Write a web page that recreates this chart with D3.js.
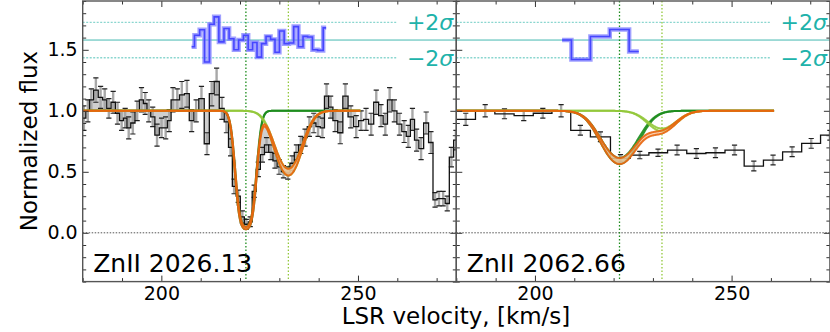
<!DOCTYPE html>
<html>
<head>
<meta charset="utf-8">
<script src="https://cdn.jsdelivr.net/npm/d3@7"></script>
<style>
body { margin: 0; background: #fff; }
svg text { font-family: "DejaVu Sans", sans-serif; }
</style>
</head>
<body>
<svg id="chart" width="830" height="332"></svg>
<script>
// ---- data ----
var velL = [180.3,181.3,182.2,183.35,184.55,185.6,186.65,187.75,188.85,189.9,
  190.8,191.7,192.75,193.85,194.95,195.9,196.8,197.8,198.9,200.05,
  201.1,202.0,202.95,204.05,205.2,206.5,207.7,208.85,210.2,211.6,
  212.8,214.05,215.4,216.55,217.6,218.5,219.55,220.6,221.6,222.6,
  223.6,224.65,225.7,226.75,227.85,228.9,229.95,231.05,232.15,233.25,
  234.35,235.45,236.55,237.65,238.75,239.85,240.95,242.0,243.05,244.2,
  245.5,246.8,248.15,249.55,250.8,252.05,253.35,254.65,255.85,256.95,
  258.05,259.25,260.55,261.75,262.8,263.85,264.9,266.05,267.35,268.55,
  269.6,270.6,271.65,272.7,273.75,274.9];
var fluxL = [0.94,1.00,1.09,1.17,1.11,1.09,1.02,1.07,0.98,0.92,
  0.94,0.86,0.90,1.00,1.09,1.06,1.00,0.95,0.80,0.86,
  0.86,0.92,1.09,1.09,1.13,1.14,0.92,1.00,1.10,0.73,
  1.14,1.24,1.02,0.91,0.70,0.38,0.30,0.13,0.07,0.09,
  0.34,0.52,0.64,0.72,0.66,0.59,0.54,0.50,0.49,0.57,
  0.66,0.72,0.78,0.87,0.90,0.87,0.86,1.12,1.03,0.92,
  0.82,1.12,0.95,0.87,0.92,0.93,0.89,1.07,0.96,0.89,
  1.09,1.00,0.89,0.83,0.79,0.93,0.76,0.69,0.90,0.74,
  0.27,0.28,0.28,0.24,0.62,0.76];
var errL = [0.10,0.09,0.09,0.10,0.09,0.09,0.08,0.09,0.09,0.08,
  0.08,0.09,0.09,0.08,0.10,0.09,0.09,0.08,0.09,0.08,
  0.09,0.09,0.10,0.09,0.11,0.11,0.09,0.09,0.10,0.09,
  0.10,0.11,0.09,0.09,0.07,0.06,0.05,0.05,0.04,0.04,
  0.05,0.06,0.06,0.06,0.06,0.06,0.06,0.05,0.05,0.06,
  0.06,0.07,0.07,0.08,0.08,0.08,0.08,0.10,0.09,0.09,
  0.09,0.10,0.09,0.09,0.08,0.09,0.09,0.10,0.09,0.09,
  0.10,0.09,0.09,0.09,0.09,0.09,0.09,0.09,0.09,0.09,
  0.06,0.06,0.06,0.06,0.08,0.08];

var velR = [182.4,187.35,192.25,197.15,202.0,206.65,211.55,216.65,221.75,226.65,
  231.3,236.15,241.05,245.9,250.75,255.65,260.55,265.4,270.25,275.0];
var fluxR = [0.93,1.00,0.975,0.96,0.98,1.00,0.84,0.787,0.61,0.637,
  0.656,0.678,0.65,0.656,0.678,0.547,0.596,0.664,0.733,0.80];
var errR = [0.05,0.05,0.04,0.04,0.04,0.05,0.04,0.04,0.03,0.03,
  0.03,0.04,0.04,0.04,0.04,0.04,0.04,0.04,0.04,0.04];

// residuals in units of sigma
var resVelL = [207.7,209.15,210.35,211.6,212.85,214.0,215.25,216.6,217.85,219.05,
  220.25,221.5,222.65,223.75,224.9,226.05,227.2,228.35,229.45,230.6,
  231.85,233.05,234.25,235.45,236.6,237.8,239.05,240.4,241.9];
var resL = [-0.76,0.55,1.17,-2.48,1.79,2.62,-0.21,1.31,0.14,-1.10,
  0,0.55,-1.10,-0.28,-1.93,-0.41,0.41,0.07,-1.38,1.03,
  -0.41,-0.34,1.52,-0.76,0.41,0.34,-1.10,-1.17,1.38];
var resVelR = [206.9,211.65,216.55,221.5,226.4];
var resR = [0,-2.2,0.4,1.2,-1.3];

// fitted components
var compVel = [221.5, 232.3];
var compTauL = [3.3, 0.70];
var compBL = [2.2, 4.3];
var compTauR = [0.53, 0.17];
var compBR = [6.0, 5.0];
var modelRangeL = [180, 250.6];
var modelRangeR = [180, 260.8];

var lineNames = ['ZnII 2026.13', 'ZnII 2062.66'];
var xMajor = [200, 250];
var yMajor = [0, 0.5, 1.0, 1.5];

// ---- layout ----
var width = 830, height = 332;
var plotTop = 1, plotBottom = 281.6;
var panelW = 373.6;
var panelX = [82.7, 456.3];
var xDomain = [180, 275];
var yDomain = [-0.4, 1.9];
var resMid = 1.58, resSig = 0.0725;
var sigLineEnd = 260;

var compColors = ['#1c8c1c', '#92c83a'];
var compFills = ['#8fcf8f', '#d3eaa6'];
var orange = '#e8650d', orangeFill = '#f6b98e';
var teal = '#20b2aa';

var svg = d3.select('#chart');

var y = d3.scaleLinear().domain(yDomain).range([plotBottom, plotTop]);

function stepPoints(vs, fs) {
    // extend the first and last bins by half a bin so steps reach the frame
    var pts = vs.map(function(v, i) { return [v, fs[i]]; });
    var n = vs.length;
    var first = [vs[0] - (vs[1] - vs[0]) / 2, fs[0]];
    var last = [vs[n - 1] + (vs[n - 1] - vs[n - 2]) / 2, fs[n - 1]];
    return [first].concat(pts, [last]);
}

function compFlux(v, i, taus, bs, s) {
    var g = (v - compVel[i]) / bs[i];
    return Math.exp(-taus[i] * s * Math.exp(-g * g));
}

function totalFlux(v, taus, bs, s) {
    var t = 0;
    for (var i = 0; i < compVel.length; i++) {
        var g = (v - compVel[i]) / bs[i];
        t += taus[i] * s * Math.exp(-g * g);
    }
    return Math.exp(-t);
}

var panels = [
    { vel: velL, flux: fluxL, err: errL, rv: resVelL, res: resL,
      taus: compTauL, bs: compBL, range: modelRangeL, fill: true },
    { vel: velR, flux: fluxR, err: errR, rv: resVelR, res: resR,
      taus: compTauR, bs: compBR, range: modelRangeR, fill: false }
];

panels.forEach(function(p, pi) {
    var x0 = panelX[pi];
    var x = d3.scaleLinear().domain(xDomain).range([x0, x0 + panelW]);
    var g = svg.append('g');

    svg.append('clipPath').attr('id', 'clip' + pi)
        .append('rect')
        .attr('x', x0).attr('y', plotTop)
        .attr('width', panelW).attr('height', plotBottom - plotTop);
    var view = g.append('g').attr('clip-path', 'url(#clip' + pi + ')');

    // reference lines
    view.append('line')
        .attr('x1', x0).attr('x2', x0 + panelW)
        .attr('y1', y(0)).attr('y2', y(0))
        .attr('stroke', '#555').attr('stroke-width', 1)
        .attr('stroke-dasharray', '1.5,1.5');
    view.append('line')
        .attr('x1', x0).attr('x2', x0 + panelW)
        .attr('y1', y(resMid)).attr('y2', y(resMid))
        .attr('stroke', '#45b8b0').attr('stroke-width', 1);
    [-2, 2].forEach(function(k) {
        view.append('line')
            .attr('x1', x0).attr('x2', x(sigLineEnd))
            .attr('y1', y(resMid + k * resSig)).attr('y2', y(resMid + k * resSig))
            .attr('stroke', '#8ad6cf').attr('stroke-width', 1.4)
            .attr('stroke-dasharray', '2,1.5');
    });
    compVel.forEach(function(v, i) {
        view.append('line')
            .attr('x1', x(v)).attr('x2', x(v))
            .attr('y1', plotTop).attr('y2', plotBottom)
            .attr('stroke', compColors[i]).attr('stroke-width', 1.3)
            .attr('stroke-dasharray', '1.5,2');
    });

    // data
    var pts = stepPoints(p.vel, p.flux);
    if (p.fill) {
        var inFit = pts.filter(function(d) { return d[0] >= p.range[0] && d[0] <= p.range[1]; });
        view.append('path')
            .attr('d', d3.area()
                .x(function(d) { return x(d[0]); })
                .y0(function(d) { return y(totalFlux(d[0], p.taus, p.bs, 1)); })
                .y1(function(d) { return y(d[1]); })
                .curve(d3.curveStep)(inFit))
            .attr('fill', '#cfcfcf');
    }
    var eb = view.append('g');
    p.vel.forEach(function(v, i) {
        var lo = y(p.flux[i] - p.err[i]), hi = y(p.flux[i] + p.err[i]);
        eb.append('line').attr('x1', x(v)).attr('x2', x(v))
            .attr('y1', lo).attr('y2', hi)
            .attr('stroke', '#a8a8a8').attr('stroke-width', 2.4);
        [lo, hi].forEach(function(yy) {
            eb.append('line').attr('x1', x(v) - 2.6).attr('x2', x(v) + 2.6)
                .attr('y1', yy).attr('y2', yy)
                .attr('stroke', '#222').attr('stroke-width', 1.2);
        });
    });
    view.append('path')
        .attr('d', d3.line()
            .x(function(d) { return x(d[0]); })
            .y(function(d) { return y(d[1]); })
            .curve(d3.curveStep)(pts))
        .attr('fill', 'none').attr('stroke', '#111').attr('stroke-width', 1.3);

    // model curves
    var vs = d3.range(p.range[0], p.range[1] + 0.001, 0.2);
    function band(fn, color, fill) {
        var lo = vs.map(function(v) { return [v, fn(v, 0.92)]; });
        var hi = vs.map(function(v) { return [v, fn(v, 1.08)]; });
        view.append('path')
            .attr('d', d3.area()
                .x(function(d, i) { return x(vs[i]); })
                .y0(function(d, i) { return y(lo[i][1]); })
                .y1(function(d, i) { return y(hi[i][1]); })(vs))
            .attr('fill', fill).attr('opacity', 0.7);
        [lo, hi].forEach(function(curve) {
            view.append('path')
                .attr('d', d3.line()
                    .x(function(d) { return x(d[0]); })
                    .y(function(d) { return y(d[1]); })(curve))
                .attr('fill', 'none').attr('stroke', color)
                .attr('stroke-width', 2).attr('opacity', 0.9);
        });
    }
    compVel.forEach(function(cv, i) {
        band(function(v, s) { return compFlux(v, i, p.taus, p.bs, s); }, compColors[i], compFills[i]);
    });
    band(function(v, s) { return totalFlux(v, p.taus, p.bs, s); }, orange, orangeFill);

    // residuals
    var resLine = d3.line()
        .x(function(d, i) { return x(p.rv[i]); })
        .y(function(d) { return y(resMid + d * resSig); })
        .curve(d3.curveStep);
    view.append('path').attr('d', resLine(p.res))
        .attr('fill', 'none').attr('stroke', '#7878ff')
        .attr('stroke-width', 4.5).attr('opacity', 0.7);
    view.append('path').attr('d', resLine(p.res))
        .attr('fill', 'none').attr('stroke', '#4646ff')
        .attr('stroke-width', 1.6);

    // sigma labels
    [['+2', 2], ['\u22122', -2]].forEach(function(lab) {
        var t = g.append('text')
            .attr('x', x0 + panelW - 3)
            .attr('y', y(resMid + lab[1] * resSig))
            .attr('dy', '0.36em')
            .attr('text-anchor', 'end')
            .attr('font-size', 22)
            .attr('fill', teal);
        t.append('tspan').text(lab[0]);
        t.append('tspan').attr('font-style', 'italic').text('\u03c3');
    });

    // line label
    g.append('text')
        .attr('x', x0 + 10.5).attr('y', 272)
        .attr('font-size', 25).attr('fill', '#000')
        .text(lineNames[pi]);

    // axes (ticks inward on all sides)
    var xMinor = d3.range(180, 276, 10).filter(function(v) { return xMajor.indexOf(v) < 0; });
    var yMinor = d3.range(-4, 20).map(function(k) { return k / 10; })
        .filter(function(v) { return yMajor.indexOf(v) < 0; });

    function addAxis(axisFn, scale, values, size, pos, labels) {
        var a = axisFn(scale).tickValues(values).tickSize(-size).tickPadding(labels ? 5 : 0);
        if (!labels) a.tickFormat('');
        else if (scale === y) a.tickFormat(d3.format('.1f'));
        else a.tickFormat(d3.format('d'));
        var ag = g.append('g').attr('transform', pos).call(a);
        ag.select('.domain').remove();
        ag.selectAll('line').attr('stroke', '#333').attr('stroke-width', 1);
        ag.selectAll('text').attr('font-size', 19).attr('fill', '#000')
            .attr('font-family', '"DejaVu Sans", sans-serif');
        return ag;
    }
    addAxis(d3.axisBottom, x, xMajor, 6, 'translate(0,' + plotBottom + ')', true);
    addAxis(d3.axisBottom, x, xMinor, 3.5, 'translate(0,' + plotBottom + ')', false);
    addAxis(d3.axisTop, x, xMajor, 6, 'translate(0,' + plotTop + ')', false);
    addAxis(d3.axisTop, x, xMinor, 3.5, 'translate(0,' + plotTop + ')', false);
    addAxis(d3.axisLeft, y, yMajor, 6, 'translate(' + x0 + ',0)', pi === 0);
    addAxis(d3.axisLeft, y, yMinor, 3.5, 'translate(' + x0 + ',0)', false);
    addAxis(d3.axisRight, y, yMajor, 6, 'translate(' + (x0 + panelW) + ',0)', false);
    addAxis(d3.axisRight, y, yMinor, 3.5, 'translate(' + (x0 + panelW) + ',0)', false);

    g.append('rect')
        .attr('x', x0).attr('y', plotTop)
        .attr('width', panelW).attr('height', plotBottom - plotTop)
        .attr('fill', 'none').attr('stroke', '#555').attr('stroke-width', 1.4);
});

// axis titles
svg.append('text')
    .attr('transform', 'translate(36.5,141) rotate(-90)')
    .attr('text-anchor', 'middle')
    .attr('font-size', 23)
    .text('Normalized flux');
svg.append('text')
    .attr('x', 456).attr('y', 324)
    .attr('text-anchor', 'middle')
    .attr('font-size', 23)
    .text('LSR velocity, [km/s]');
</script>
</body>
</html>
